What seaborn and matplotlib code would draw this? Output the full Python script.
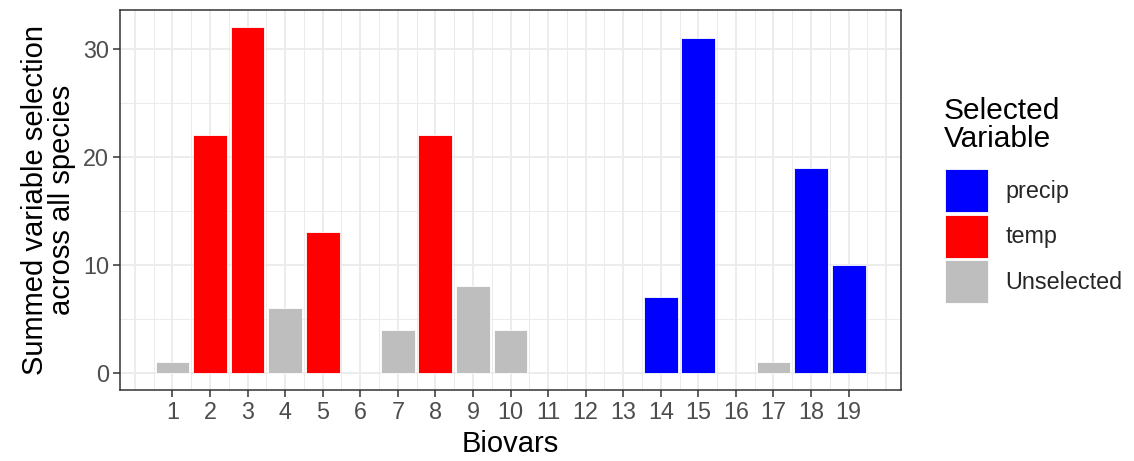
import numpy as np
import pandas as pd
import matplotlib
matplotlib.use("Agg")
import matplotlib.pyplot as plt
import matplotlib.patches as mpatches
import seaborn as sns

biovars = list(range(1, 20))
counts = [1, 22, 32, 6, 13, 0, 4, 22, 8, 4, 0, 0, 0, 7, 31, 0, 1, 19, 10]
selected = ["Unselected", "temp", "temp", "Unselected", "temp", "Unselected",
            "Unselected", "temp", "Unselected", "Unselected", "Unselected",
            "Unselected", "Unselected", "precip", "precip", "Unselected",
            "Unselected", "precip", "precip"]
hue_order = ["precip", "temp", "Unselected"]
palette = {"precip": "#0000FF", "temp": "#FF0000", "Unselected": "#BEBEBE"}

df = pd.DataFrame({"Biovar": biovars, "Count": counts, "Selected": selected})
plot_df = df[df["Count"] > 0]

sns.set_theme(style="white")
plt.rcParams['font.family'] = ['Liberation Sans', 'DejaVu Sans']

W, H = 1134, 461
fig = plt.figure(figsize=(W / 100, H / 100), dpi=100)
ax = fig.add_axes([120/W, 1 - 390/H, (901-120)/W, (390-10)/H])

# grid
xmin, xmax = 0.55 - 0.945, 19.45 + 0.945
ymin, ymax = -1.6, 33.6
for xm in np.arange(0, 20.01, 0.5):
    ax.axvline(xm, color="#EBEBEB", lw=0.7 if xm % 1 else 1.3, zorder=0)
for ym in [5, 15, 25]:
    ax.axhline(ym, color="#EBEBEB", lw=0.7, zorder=0)
for ym in [0, 10, 20, 30]:
    ax.axhline(ym, color="#EBEBEB", lw=1.3, zorder=0)

sns.barplot(data=plot_df, x="Biovar", y="Count", hue="Selected", hue_order=hue_order,
            palette=palette, native_scale=True, dodge=False, width=0.9,
            edgecolor="white", linewidth=0.6, saturation=1, legend=False, ax=ax, zorder=2)

ax.set_xlim(xmin, xmax)
ax.set_ylim(ymin, ymax)
ax.set_xticks(biovars)
ax.set_xticklabels([str(b) for b in biovars])
ax.set_yticks([0, 10, 20, 30])
ax.tick_params(axis="both", which="major", length=5, width=1.1, color="#333333",
               labelsize=16.8, labelcolor="#4D4D4D", bottom=True, left=True, pad=3)
for s in ax.spines.values():
    s.set_color("#333333")
    s.set_linewidth(1.1)
ax.set_xlabel("Biovars", fontsize=21, color="black", labelpad=4)
ax.set_ylabel("Summed variable selection\nacross all species", fontsize=21,
              color="black", labelpad=5, linespacing=0.95)
ax.grid(False)

# legend title
fig.text(944/W, 1 - 97/H, "Selected\nVariable", fontsize=21.5, color="black",
         ha="left", va="top", linespacing=0.98)

handles = [mpatches.Patch(facecolor=palette[h], edgecolor="white", linewidth=0.6, label=h)
           for h in hue_order]
leg = fig.legend(handles=handles, loc="upper left",
                 bbox_to_anchor=(945/W, 1 - 169/H), frameon=False,
                 fontsize=16.8, handlelength=1.85, handleheight=2.45,
                 labelspacing=0.12, handletextpad=0.75, borderaxespad=0, borderpad=0)

fig.savefig("out.png", dpi=100)
